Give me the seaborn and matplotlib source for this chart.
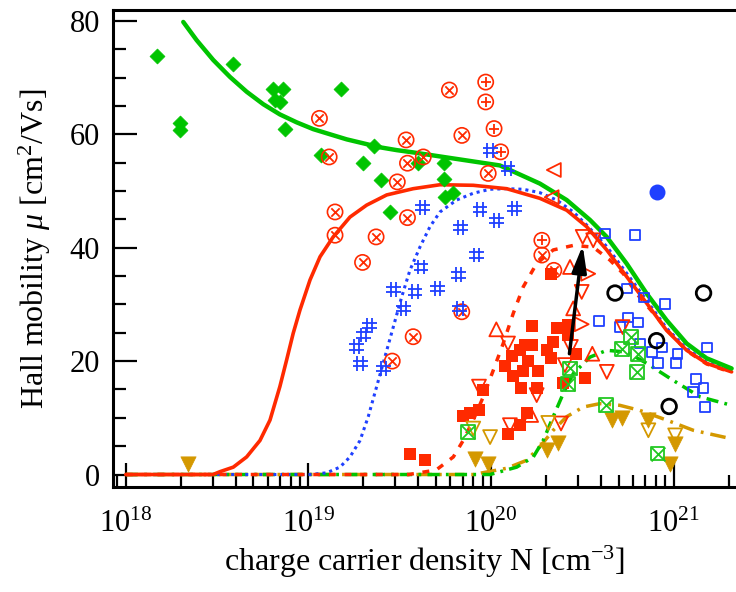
import numpy as np
import matplotlib
matplotlib.use("Agg")
import matplotlib.pyplot as plt
from matplotlib.path import Path
from matplotlib.ticker import MultipleLocator
import seaborn as sns

# ---- data (N in cm^-3, mobility in cm^2/Vs) ----
diamond_N = [1.49e18, 1.98e18, 1.98e18, 3.88e18, 6.43e18, 7.23e18, 6.56e18, 6.98e18, 7.41e18,
             1.50e19, 1.18e19, 2.29e19, 2.00e19, 2.50e19, 2.80e19, 4.00e19, 5.53e19, 5.53e19,
             6.19e19, 5.60e19]
diamond_mu = [73.8, 62.0, 60.8, 72.4, 67.9, 67.9, 66.0, 65.7, 61.0,
              67.9, 56.3, 57.9, 55.0, 51.9, 46.3, 54.9, 55.0, 52.1, 49.6, 48.9]

otimes_N = [1.15e19, 1.30e19, 3.43e19, 3.49e19, 3.07e19, 1.40e19, 3.49e19, 1.40e19, 2.35e19,
            4.26e19, 5.92e19, 6.93e19, 9.66e19, 1.98e19, 3.75e19, 2.88e19, 6.92e19, 1.90e20,
            2.21e20]
otimes_mu = [62.8, 56.0, 59.0, 54.9, 51.6, 46.3, 45.3, 42.2, 41.9,
             56.0, 67.8, 59.8, 53.1, 37.4, 24.3, 20.0, 28.7, 38.7, 36.0]

oplus_N = [9.36e19, 9.36e19, 1.04e20, 1.13e20, 1.90e20]
oplus_mu = [69.2, 65.7, 61.0, 56.9, 41.3]

hash_N = [2.92e19, 3.84e19, 3.31e19, 2.16e19, 2.00e19, 1.84e19, 1.92e19, 2.57e19, 4.14e19,
          6.80e19, 8.35e19, 6.62e19, 5.08e19, 6.76e19, 9.89e19, 1.24e20, 4.23e19, 8.71e19,
          1.07e20, 1.35e20]
hash_mu = [32.6, 32.2, 29.3, 26.3, 24.6, 22.5, 19.6, 18.7, 36.6,
           43.5, 38.7, 35.2, 32.8, 29.3, 57.2, 54.0, 47.1, 46.7, 44.8, 46.9]

bsq_N = [4.21e20, 6.15e20, 5.57e20, 6.89e20, 8.98e20, 3.92e20, 5.65e20, 6.41e20, 5.08e20,
         6.55e20, 7.59e20, 8.61e20, 1.05e21, 8.24e20, 1.03e21, 1.52e21, 1.33e21, 1.46e21,
         1.28e21, 1.49e21]
bsq_mu = [42.5, 42.2, 32.8, 31.2, 30.0, 27.1, 27.7, 26.8, 26.0,
          23.1, 21.6, 22.4, 21.3, 19.7, 19.7, 22.4, 16.9, 15.2, 14.5, 11.9]

black_N = [4.78e20, 1.46e21, 8.07e20, 9.46e20]
black_mu = [32.0, 32.0, 23.6, 12.0]

bdot_N = [8.15e20]
bdot_mu = [49.8]

rsq_N = [1.68e20, 2.29e20, 2.63e20, 2.65e20, 1.54e20, 1.68e20, 2.19e20, 2.04e20, 2.91e20,
         1.30e20, 1.44e20, 1.60e20, 2.13e20, 1.19e20, 1.32e20, 1.50e20, 1.82e20, 3.27e20,
         1.46e20, 1.78e20, 2.49e20, 9.08e19, 8.60e19, 7.68e19, 7.05e19, 1.57e20, 1.44e20,
         1.24e20, 2.12e20, 3.60e19, 4.35e19]
rsq_mu = [26.2, 25.9, 26.3, 24.6, 22.8, 22.8, 23.4, 22.0, 21.2,
          20.9, 21.9, 20.0, 20.5, 19.1, 17.3, 18.3, 18.3, 17.1,
          15.3, 15.3, 16.2, 14.9, 11.3, 10.8, 10.3, 10.8, 8.7,
          7.2, 35.4, 3.7, 2.6]

rup_N = [1.07e20, 3.59e20, 1.66e20, 2.71e20, 2.82e20]
rup_mu = [25.6, 21.3, 10.5, 36.6, 29.3]

rdown_N = [1.24e20, 8.60e19, 1.78e20, 4.31e20, 1.27e20, 2.42e20, 2.74e20, 2.54e20, 3.18e20,
           3.63e20, 3.14e20, 5.26e20]
rdown_mu = [23.1, 15.5, 14.0, 18.1, 8.7, 9.0, 22.5, 19.3, 41.9, 41.3, 32.2, 26.0]

rright_N = [3.41e20, 3.14e20]
rright_mu = [35.4, 26.5]

rleft_N = [2.21e20, 2.15e20]
rleft_mu = [53.7, 48.9]

gold_N = [2.19e18, 8.17e19, 9.66e19, 2.02e20, 2.34e20, 4.58e20, 5.20e20, 7.28e20, 1.02e21,
          9.55e20]
gold_mu = [1.8, 2.8, 1.9, 4.3, 5.5, 9.6, 9.9, 9.6, 5.3, 1.9]

gold_open_N = [2.06e20, 9.89e19, 8.00e19, 7.28e20, 1.02e21]
gold_open_mu = [9.1, 6.6, 8.1, 7.8, 6.9]

boxx_N = [7.52e19, 2.71e20, 2.63e20, 4.25e20, 5.82e20, 5.20e20, 6.41e20, 6.28e20, 8.17e20]
boxx_mu = [7.5, 18.7, 15.9, 12.2, 24.3, 22.2, 21.2, 18.1, 3.7]

arrow_N = [2.69e20, 3.18e20]   # tail, head
arrow_mu = [21.3, 40.4]

# ---- model curves, points (x given as log10 N - 18) ----
green_logN = [0.315, 0.388, 0.479, 0.571, 0.662, 0.753, 0.844, 0.936, 1.027, 1.118, 1.210,
              1.301, 1.392, 1.484, 1.574, 1.739, 2.049, 2.268, 2.415, 2.542, 2.634, 2.743,
              2.853, 2.962, 3.072, 3.181, 3.318]
green_mu = [79.8, 76.6, 73.1, 70.1, 67.5, 65.3, 63.5, 62.1, 60.9, 60.0, 59.1,
            58.4, 57.7, 57.2, 56.8, 56.0, 54.5, 51.3, 48.4, 44.9, 41.9, 37.2,
            31.9, 27.2, 23.1, 20.5, 18.7]

red_logN = [0.0, 0.478, 0.516, 0.589, 0.662, 0.735, 0.790, 0.844, 0.881, 0.917, 0.954,
            1.009, 1.064, 1.136, 1.228, 1.319, 1.429, 1.574, 1.721, 1.903, 2.086, 2.268,
            2.415, 2.524, 2.634, 2.743, 2.853, 2.962, 3.072, 3.181, 3.318]
red_mu = [0.0, 0.0, 0.5, 1.3, 3.1, 6.0, 9.6, 15.5, 20.2, 24.9, 29.0,
          34.3, 38.4, 41.9, 45.4, 47.5, 49.3, 50.4, 51.1, 51.0, 50.4, 48.7,
          46.6, 43.7, 39.6, 34.9, 30.2, 25.4, 21.9, 19.6, 18.1]

blue_logN = [0.0, 1.009, 1.100, 1.173, 1.228, 1.283, 1.328, 1.374, 1.419, 1.465, 1.511,
             1.556, 1.611, 1.666, 1.721, 1.812, 1.903, 1.995, 2.086, 2.177, 2.268, 2.360,
             2.451, 2.524, 2.634, 2.743, 2.853, 2.962, 3.072, 3.181, 3.318]
blue_mu = [0.0, 0.0, 0.3, 1.3, 3.1, 6.0, 10.2, 15.5, 20.7, 26.0, 31.3,
           36.0, 40.1, 43.7, 46.3, 48.4, 49.6, 50.3, 50.4, 50.3, 49.7, 48.4,
           46.3, 44.0, 40.2, 35.5, 30.7, 25.8, 22.2, 19.8, 18.3]

rdot_logN = [0.0, 1.550, 1.700, 1.794, 1.848, 1.903, 1.958, 2.013, 2.067, 2.122, 2.177,
             2.250, 2.341, 2.451, 2.560, 2.652, 2.725, 2.798, 2.907, 2.962, 3.072, 3.181,
             3.318]
rdot_mu = [0.0, 0.0, 0.8, 3.1, 6.0, 9.6, 13.7, 18.4, 23.1, 28.4, 33.1,
           37.2, 39.6, 40.4, 40.1, 37.8, 35.4, 31.9, 27.8, 25.6, 21.8, 19.5,
           18.0]

gdash_logN = [0.0, 1.995, 2.141, 2.232, 2.286, 2.341, 2.396, 2.451, 2.542, 2.634, 2.743,
              2.853, 2.998, 3.145, 3.318]
gdash_mu = [0.0, 0.0, 1.3, 3.1, 6.0, 10.2, 14.3, 17.8, 20.7, 21.9, 21.6,
            19.6, 16.6, 13.7, 12.2]

ydash_logN = [0.0, 1.903, 2.086, 2.195, 2.268, 2.341, 2.415, 2.505, 2.597, 2.706, 2.816,
              2.962, 3.108, 3.318]
ydash_mu = [0.0, 0.0, 1.1, 2.5, 4.9, 7.8, 10.2, 11.9, 12.5, 12.2, 11.3,
            9.6, 7.8, 6.3]

RED = "#ff2a00"
GREEN = "#00c400"
BLUE = "#1f40ff"
GOLD = "#d49800"
BOXGREEN = "#22c822"

sns.set_theme(style="ticks")
plt.rcParams["font.family"] = ["Liberation Serif", "DejaVu Serif"]
plt.rcParams["mathtext.fontset"] = "custom"
plt.rcParams["mathtext.rm"] = "Liberation Serif"
plt.rcParams["mathtext.it"] = "Liberation Serif:italic"
plt.rcParams["mathtext.bf"] = "Liberation Serif:bold"
for key in ["text.color", "axes.labelcolor", "xtick.color", "ytick.color", "axes.edgecolor"]:
    plt.rcParams[key] = "black"

fig = plt.figure(figsize=(7.36, 5.92), dpi=100)
ax = fig.add_axes([0.153, 0.177, 0.847, 0.806])
ax.set_xscale("log")


def curve(logn, mu, color, lw, ls="-"):
    n = 1e18 * np.power(10.0, logn)
    sns.lineplot(x=n, y=mu, ax=ax, color=color, lw=lw, sort=False, estimator=None,
                 linestyle=ls, solid_capstyle="round")


curve(ydash_logN, ydash_mu, GOLD, 2.5, (0, (4.5, 2, 0.8, 2)))
curve(gdash_logN, gdash_mu, GREEN, 2.5, (0, (3.5, 1.8, 0.8, 1.8)))
curve(blue_logN, blue_mu, BLUE, 2.2, (0, (1, 1.3)))
curve(rdot_logN, rdot_mu, RED, 2.5, (0, (2, 2.5)))
curve(red_logN, red_mu, RED, 2.6)
curve(green_logN, green_mu, GREEN, 3.2)


def pts(x, y, marker, s, color, face=None, lw=1.2, z=3):
    kw = dict(x=x, y=y, ax=ax, marker=marker, s=s, color=color, linewidth=lw, zorder=z)
    if face is not None:
        kw["facecolor"] = face
        kw["edgecolor"] = color
    elif marker not in ("x", "+"):
        kw["edgecolor"] = color
    sns.scatterplot(**kw)


hash_path = Path(
    [(-0.35, -1), (-0.35, 1), (0.35, -1), (0.35, 1), (-1, -0.35), (1, -0.35), (-1, 0.35), (1, 0.35)],
    [Path.MOVETO, Path.LINETO] * 4)

pts(diamond_N, diamond_mu, "D", 58, GREEN, lw=0.5)
pts(otimes_N, otimes_mu, "o", 120, RED, face="none", lw=1.2)
pts(otimes_N, otimes_mu, "x", 36, RED, lw=1.3)
pts(oplus_N, oplus_mu, "o", 120, RED, face="none", lw=1.2)
pts(oplus_N, oplus_mu, "+", 49, RED, lw=1.3)
pts(hash_N, hash_mu, hash_path, 115, BLUE, face="none", lw=1.3)
pts(bsq_N, bsq_mu, "s", 50, BLUE, face="none", lw=1.3)
pts(rsq_N, rsq_mu, "s", 64, RED, lw=0)
pts(rup_N, rup_mu, "^", 100, RED, face="none", lw=1.3)
pts(rdown_N, rdown_mu, "v", 100, RED, face="none", lw=1.3)
pts(rright_N, rright_mu, ">", 100, RED, face="none", lw=1.3)
pts(rleft_N, rleft_mu, "<", 100, RED, face="none", lw=1.3)
pts(gold_N, gold_mu, "v", 121, GOLD, lw=0.5)
pts(gold_open_N, gold_open_mu, "v", 100, GOLD, face="none", lw=1.3)
pts(boxx_N, boxx_mu, "s", 100, BOXGREEN, face="none", lw=1.3)
pts(boxx_N, boxx_mu, "x", 100, BOXGREEN, lw=1.3)
pts(black_N, black_mu, "o", 110, "black", face="none", lw=2.0)
pts(bdot_N, bdot_mu, "o", 132, BLUE, lw=0)

ax.annotate("", xy=(arrow_N[1], arrow_mu[1]), xytext=(arrow_N[0], arrow_mu[0]),
            arrowprops=dict(arrowstyle="-|>,head_length=0.8,head_width=0.22",
                            color="black", lw=2.5, mutation_scale=20, shrinkA=0, shrinkB=0),
            zorder=6)

ax.set_xlim(10 ** 17.928, 10 ** 21.342)
ax.set_ylim(-2.24, 81.9)
ax.set_yticks([0, 20, 40, 60, 80])
ax.yaxis.set_minor_locator(MultipleLocator(5))
ax.tick_params(which="major", direction="in", length=17, width=1.6, labelsize=22, pad=9,
               top=False, right=False, colors="black")
ax.tick_params(which="minor", direction="in", length=9, width=1.6, top=False, right=False,
               colors="black")
ax.tick_params(axis="x", which="major", pad=16)
for side in ["left", "bottom", "top"]:
    ax.spines[side].set_linewidth(2.2)
    ax.spines[side].set_color("black")
ax.spines["right"].set_visible(False)

ax.set_xlabel("charge carrier density N [cm$^{-3}$]", fontsize=23, labelpad=4, color="black")
ax.set_ylabel("Hall mobility $\\mu$ [cm$^2$/Vs]", fontsize=23, labelpad=12, color="black")

fig.savefig("out.png", dpi=100)
